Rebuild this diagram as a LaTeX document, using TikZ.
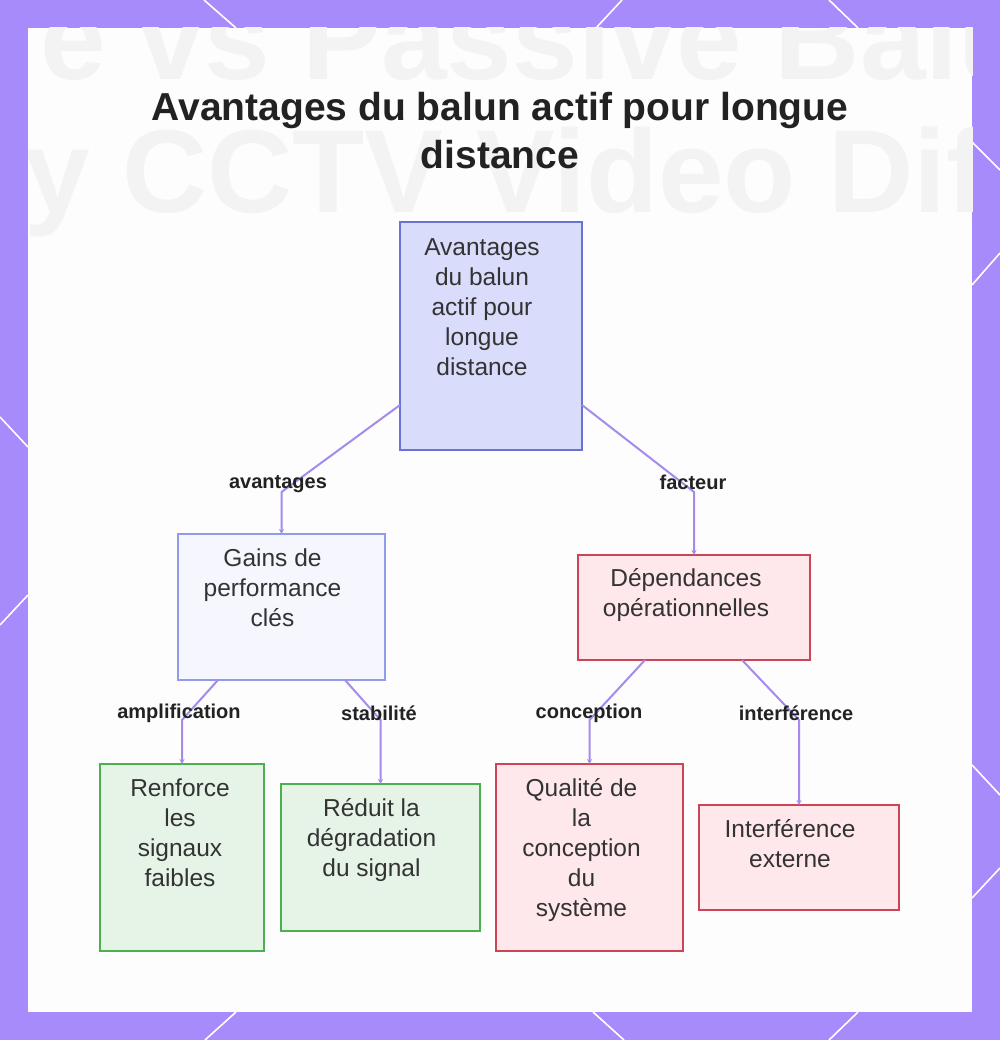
\documentclass[tikz,border=0pt]{standalone}
\usepackage{fontspec}
\setmainfont{Liberation Sans}
\usetikzlibrary{arrows.meta,calc}
\definecolor{bgpurple}{HTML}{A78BFA}
\definecolor{panelc}{HTML}{FDFDFD}
\definecolor{ghostc}{HTML}{F3F3F3}
\definecolor{connc}{HTML}{A58BEA}
\definecolor{rootfill}{HTML}{D9DCFB}
\definecolor{rootdraw}{HTML}{6973D2}
\definecolor{gainfill}{HTML}{F5F6FE}
\definecolor{gaindraw}{HTML}{8E9CE9}
\definecolor{grnfill}{HTML}{E6F4E7}
\definecolor{grndraw}{HTML}{4CAF50}
\definecolor{redfill}{HTML}{FFE8EC}
\definecolor{reddraw}{HTML}{CC4455}
\definecolor{txtc}{HTML}{333333}
\definecolor{lblc}{HTML}{222222}
\tikzset{
  boxbase/.style={rectangle, line width=2pt, inner sep=0pt, outer sep=0pt, anchor=north west},
  rootbox/.style={boxbase, draw=rootdraw, fill=rootfill},
  gainbox/.style={boxbase, draw=gaindraw, fill=gainfill},
  grnbox/.style={boxbase, draw=grndraw, fill=grnfill},
  redbox/.style={boxbase, draw=reddraw, fill=redfill},
  boxtext/.style={anchor=north, align=center, inner sep=0pt, text=txtc, font=\fontsize{24.5}{30}\selectfont},
  elabel/.style={inner sep=0pt, text=lblc, font=\bfseries\fontsize{20}{24}\selectfont},
  conn/.style={draw=connc, line width=2pt, -{Stealth[length=5pt,width=5pt]}},
  deco/.style={draw=white, line width=1.6pt},
  ghost/.style={inner sep=0pt, text=ghostc, font=\bfseries\fontsize{118}{130}\selectfont},
  titlestyle/.style={anchor=north, align=center, inner sep=0pt, text=lblc, font=\bfseries\fontsize{39}{48}\selectfont}
}
\begin{document}
\begin{tikzpicture}[x=1pt,y=-1pt]
\useasboundingbox (0,0) rectangle (1000,1040);
\fill[bgpurple] (0,0) rectangle (1000,1040);
% decorative white lines on the border
\draw[deco] (204,0) -- (236,28);
\draw[deco] (622,0) -- (596,28);
\draw[deco] (829,0) -- (858,28);
\draw[deco] (972,142) -- (1000,170);
\draw[deco] (972,285) -- (1000,253);
\draw[deco] (972,765) -- (1000,795);
\draw[deco] (972,898) -- (1000,868);
\draw[deco] (236,1012) -- (205,1040);
\draw[deco] (593,1012) -- (624,1040);
\draw[deco] (858,1012) -- (829,1040);
\draw[deco] (0,417) -- (28,447);
\draw[deco] (0,625) -- (28,595);
% panel
\fill[panelc] (28,28) rectangle (972,1012);
\begin{scope}
\clip (28,28) rectangle (972,1012);
\node[ghost, anchor=base west] (ghost1) at (40,80) {e vs Passive Balun};
\node[ghost, anchor=base west] (ghost2) at (24,213) {y CCTV Video Difference};
\end{scope}
% title
\node[titlestyle] (title) at (500,92) {Avantages du balun actif pour longue\\distance};
% boxes
\node[rootbox, minimum width=182, minimum height=228] (root) at (400,222) {};
\node[gainbox, minimum width=207, minimum height=146] (gains) at (178,534) {};
\node[redbox, minimum width=232, minimum height=105] (dep) at (578,555) {};
\node[grnbox, minimum width=164, minimum height=187] (renf) at (100,764) {};
\node[grnbox, minimum width=199, minimum height=147] (reduit) at (281,784) {};
\node[redbox, minimum width=187, minimum height=187] (qual) at (496,764) {};
\node[redbox, minimum width=200, minimum height=105] (interf) at (699,805) {};
% box texts
\node[boxtext] (root-t) at ([xshift=-9pt,yshift=-16pt]root.north) {Avantages\\du balun\\actif pour\\longue\\distance};
\node[boxtext] (gains-t) at ([xshift=-9pt,yshift=-15pt]gains.north) {Gains de\\performance\\clés};
\node[boxtext] (dep-t) at ([xshift=-8pt,yshift=-13pt]dep.north) {Dépendances\\opérationnelles};
\node[boxtext] (renf-t) at ([xshift=-2pt,yshift=-15pt]renf.north) {Renforce\\les\\signaux\\faibles};
\node[boxtext] (reduit-t) at ([xshift=-9pt,yshift=-14pt]reduit.north) {Réduit la\\dégradation\\du signal};
\node[boxtext] (qual-t) at ([xshift=-8pt,yshift=-14pt]qual.north) {Qualité de\\la\\conception\\du\\système};
\node[boxtext] (interf-t) at ([xshift=-9pt,yshift=-14pt]interf.north) {Interférence\\externe};
% connectors
\draw[conn] ([yshift=45pt]root.south west) -- (gains.north |- 0,492) -- (gains.north);
\draw[conn] ([yshift=45pt]root.south east) -- (dep.north |- 0,492) -- (dep.north);
\draw[conn] ([xshift=40pt]gains.south west) -- (renf.north |- 0,720) -- (renf.north);
\draw[conn] ([xshift=-40pt]gains.south east) -- (reduit.north |- 0,720) -- (reduit.north);
\draw[conn] ([xshift=67pt]dep.south west) -- (qual.north |- 0,720) -- (qual.north);
\draw[conn] ([xshift=-68pt]dep.south east) -- (interf.north |- 0,720) -- (interf.north);
% connector labels
\node[elabel] (l-avant) at (278,484) {avantages};
\node[elabel] (l-fact) at (693,482) {facteur};
\node[elabel] (l-ampl) at (179,713) {amplification};
\node[elabel] (l-stab) at (379,713) {stabilité};
\node[elabel] (l-conc) at (589,713) {conception};
\node[elabel] (l-intf) at (796,713) {interférence};
\end{tikzpicture}
\end{document}
